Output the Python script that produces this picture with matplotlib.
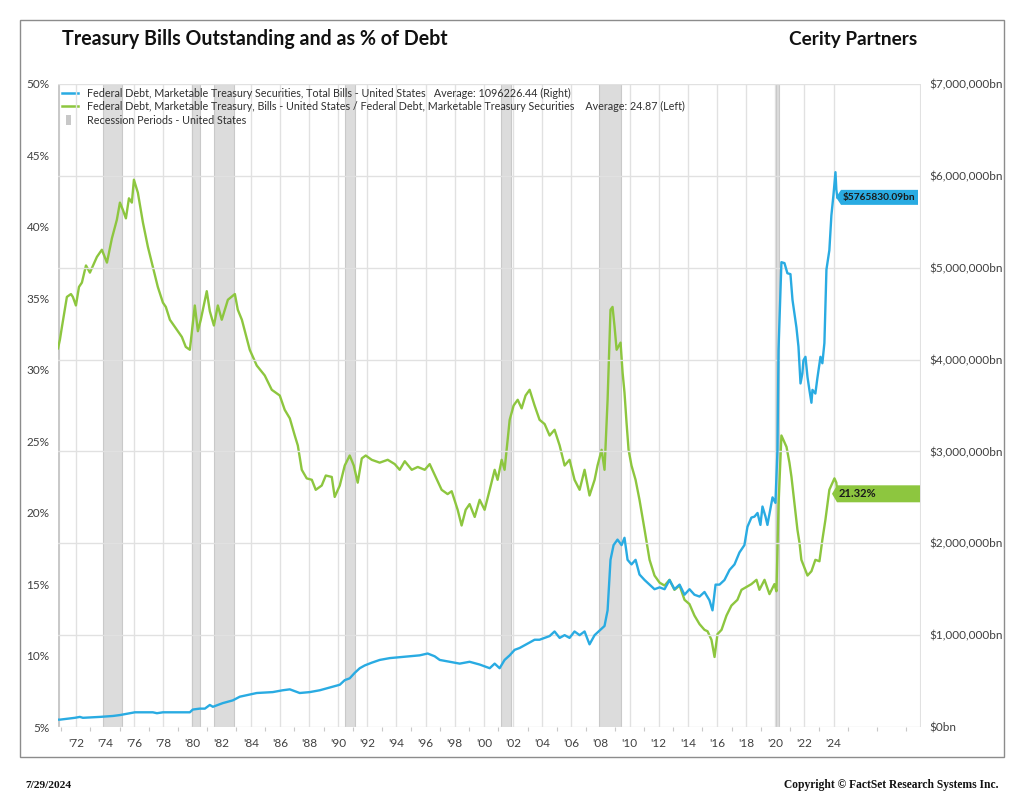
import matplotlib
matplotlib.use("Agg")
import matplotlib.pyplot as plt
from matplotlib.patches import Rectangle, Polygon
from matplotlib.ticker import FixedLocator, FuncFormatter

# ---------------- data ----------------
pct_years = [1970.77, 1970.90, 1971.04, 1971.38, 1971.66, 1971.79, 1972.00, 1972.21, 1972.41, 1972.69,
             1972.96, 1973.44, 1973.78, 1974.13, 1974.47, 1974.81, 1975.02, 1975.22, 1975.43, 1975.64,
             1975.84, 1975.98, 1976.25, 1976.60, 1976.94, 1977.28, 1977.62, 1977.97, 1978.17, 1978.45,
             1978.93, 1979.27, 1979.54, 1979.82, 1980.16, 1980.37, 1980.57, 1980.98, 1981.19, 1981.47,
             1981.74, 1982.01, 1982.43, 1982.91, 1983.11, 1983.39, 1983.93, 1984.41, 1984.96, 1985.44,
             1985.99, 1986.33, 1986.68, 1987.02, 1987.23, 1987.50, 1987.84, 1988.19, 1988.46, 1988.87,
             1989.15, 1989.56, 1989.76, 1990.11, 1990.45, 1990.79, 1991.07, 1991.34, 1991.62, 1991.89,
             1992.30, 1992.85, 1993.40, 1993.88, 1994.22, 1994.57, 1995.05, 1995.46, 1995.94, 1996.28,
             1996.69, 1997.10, 1997.51, 1997.79, 1998.20, 1998.47, 1998.75, 1999.02, 1999.37, 1999.71,
             2000.05, 2000.40, 2000.74, 2000.94, 2001.22, 2001.42, 2001.77, 2002.04, 2002.32, 2002.59,
             2002.86, 2003.14, 2003.48, 2003.82, 2004.17, 2004.51, 2004.85, 2005.20, 2005.54, 2005.88,
             2006.22, 2006.57, 2006.91, 2007.25, 2007.60, 2007.80, 2008.08, 2008.28, 2008.49, 2008.69,
             2008.83, 2008.97, 2009.11, 2009.38, 2009.52, 2009.65, 2009.79, 2009.93, 2010.13, 2010.41,
             2010.68, 2011.03, 2011.37, 2011.71, 2012.06, 2012.40, 2012.74, 2013.08, 2013.43, 2013.77,
             2014.11, 2014.45, 2014.80, 2015.14, 2015.35, 2015.62, 2015.83, 2016.03, 2016.31, 2016.65,
             2016.99, 2017.40, 2017.68, 2018.02, 2018.36, 2018.71, 2018.91, 2019.26, 2019.60, 2019.94,
             2020.08, 2020.22, 2020.42, 2020.77, 2020.97, 2021.11, 2021.31, 2021.52, 2021.66, 2021.79,
             2022.21, 2022.48, 2022.75, 2023.03, 2023.23, 2023.44, 2023.71, 2024.06, 2024.19, 2024.26]
pct_values = [31.5, 32.1, 33.0, 35.1, 35.3, 35.1, 34.5, 35.8, 36.1, 37.3,
              36.8, 37.9, 38.4, 37.5, 39.2, 40.5, 41.7, 41.2, 40.6, 42.0,
              41.7, 43.3, 42.4, 40.3, 38.6, 37.2, 35.8, 34.7, 34.4, 33.5,
              32.8, 32.3, 31.6, 31.4, 34.5, 32.7, 33.5, 35.5, 34.1, 33.1,
              34.5, 33.5, 34.9, 35.3, 34.2, 33.5, 31.4, 30.3, 29.6, 28.6,
              28.2, 27.2, 26.6, 25.4, 24.7, 23.0, 22.4, 22.3, 21.6, 21.9,
              22.6, 22.5, 21.1, 21.9, 23.3, 24.0, 23.3, 22.1, 23.8, 24.0,
              23.7, 23.5, 23.7, 23.4, 23.0, 23.6, 23.0, 23.2, 23.0, 23.4,
              22.5, 21.6, 21.3, 21.5, 20.2, 19.1, 20.2, 20.6, 19.7, 20.9,
              20.2, 21.6, 23.0, 22.3, 23.7, 23.0, 26.5, 27.5, 27.9, 27.3,
              28.2, 28.6, 27.5, 26.5, 26.2, 25.4, 25.8, 24.7, 23.3, 23.7,
              22.3, 21.6, 23.0, 21.2, 22.3, 23.3, 24.4, 23.0, 27.9, 34.2,
              34.4, 33.0, 31.4, 31.9, 29.8, 28.4, 26.3, 24.4, 23.3, 22.3,
              20.9, 18.8, 16.7, 15.6, 15.1, 14.9, 15.3, 14.6, 14.9, 13.9,
              13.6, 12.8, 12.2, 11.8, 11.7, 11.1, 9.9, 11.5, 11.8, 12.8,
              13.5, 13.9, 14.6, 14.8, 15.0, 15.3, 14.6, 15.3, 14.3, 15.0,
              14.5, 20.5, 25.4, 24.6, 23.5, 22.5, 20.7, 18.8, 17.9, 16.7,
              15.6, 15.9, 16.7, 16.6, 18.1, 19.5, 21.6, 22.4, 22.1, 21.32]

bills_years = [1970.77, 1970.90, 1971.93, 1972.27, 1972.48, 1973.65, 1974.54, 1975.02, 1975.70, 1976.05,
               1977.28, 1977.56, 1977.97, 1979.82, 1980.02, 1980.50, 1980.85, 1981.19, 1981.40, 1982.08,
               1982.77, 1983.25, 1984.41, 1985.51, 1986.20, 1986.68, 1987.36, 1988.05, 1988.74, 1989.42,
               1990.11, 1990.45, 1990.79, 1991.14, 1991.48, 1991.82, 1992.30, 1992.85, 1993.54, 1994.22,
               1994.91, 1995.59, 1996.14, 1996.62, 1996.97, 1997.65, 1998.34, 1999.02, 1999.71, 2000.40,
               2000.74, 2001.08, 2001.42, 2001.77, 2002.11, 2002.45, 2002.80, 2003.14, 2003.48, 2003.82,
               2004.17, 2004.51, 2004.85, 2005.20, 2005.54, 2005.88, 2006.22, 2006.57, 2006.91, 2007.25,
               2007.60, 2007.94, 2008.28, 2008.49, 2008.69, 2008.90, 2009.17, 2009.45, 2009.65, 2009.86,
               2010.13, 2010.41, 2010.68, 2011.03, 2011.37, 2011.71, 2012.06, 2012.40, 2012.74, 2013.08,
               2013.43, 2013.77, 2014.11, 2014.45, 2014.80, 2015.14, 2015.48, 2015.69, 2015.90, 2016.17,
               2016.51, 2016.86, 2017.20, 2017.54, 2017.88, 2018.09, 2018.36, 2018.57, 2018.78, 2018.98,
               2019.12, 2019.33, 2019.46, 2019.74, 2019.81, 2020.01, 2020.15, 2020.22, 2020.42, 2020.63,
               2020.83, 2021.04, 2021.18, 2021.45, 2021.59, 2021.73, 2021.86, 2021.93, 2022.07, 2022.21,
               2022.34, 2022.48, 2022.55, 2022.75, 2022.89, 2023.10, 2023.23, 2023.37, 2023.51, 2023.71,
               2023.85, 2023.99, 2024.13, 2024.19, 2024.26]
bills_values = [80000, 80000, 100000, 110000, 100000, 110000, 120000, 130000, 150000, 160000,
                160000, 150000, 160000, 160000, 190000, 200000, 200000, 240000, 220000, 260000,
                290000, 330000, 370000, 380000, 400000, 410000, 370000, 380000, 400000, 430000,
                460000, 510000, 530000, 590000, 640000, 670000, 700000, 730000, 750000, 760000,
                770000, 780000, 800000, 770000, 730000, 710000, 690000, 710000, 680000, 640000,
                690000, 640000, 730000, 780000, 840000, 860000, 890000, 920000, 950000, 950000,
                970000, 990000, 1040000, 970000, 1000000, 970000, 1040000, 1000000, 1040000, 900000,
                1000000, 1050000, 1100000, 1270000, 1820000, 1980000, 2040000, 1980000, 2060000, 1820000,
                1770000, 1820000, 1660000, 1600000, 1550000, 1500000, 1520000, 1500000, 1600000, 1500000,
                1550000, 1440000, 1500000, 1440000, 1420000, 1470000, 1380000, 1270000, 1550000, 1550000,
                1600000, 1710000, 1770000, 1900000, 1980000, 2180000, 2280000, 2290000, 2330000, 2200000,
                2400000, 2290000, 2200000, 2440000, 2500000, 2440000, 3020000, 4100000, 5060000, 5050000,
                4940000, 4930000, 4650000, 4350000, 4140000, 3740000, 3850000, 3990000, 4030000, 3810000,
                3670000, 3530000, 3670000, 3630000, 3800000, 4030000, 3960000, 4180000, 4980000, 5190000,
                5570000, 5790000, 6040000, 5850000, 5765830.09]

recession_starts = [1969.92, 1973.83, 1980.00, 1981.50, 1990.50, 2001.17, 2007.92, 2020.08]
recession_ends = [1970.87, 1975.17, 1980.50, 1982.83, 1991.17, 2001.83, 2009.42, 2020.25]

pct_ticks = [5, 10, 15, 20, 25, 30, 35, 40, 45, 50]
bill_ticks = [0, 1000000, 2000000, 3000000, 4000000, 5000000, 6000000, 7000000]
year_ticks = list(range(1972, 2025, 2))
year_labels = ["'%02d" % (y % 100) for y in year_ticks]

title = "Treasury Bills Outstanding and as % of Debt"
brand = "Cerity Partners"
legend_labels = ["Federal Debt, Marketable Treasury Securities, Total Bills - United States   Average: 1096226.44 (Right)",
                 "Federal Debt, Marketable Treasury, Bills - United States / Federal Debt, Marketable Treasury Securities    Average: 24.87 (Left)",
                 "Recession Periods - United States"]

# ---------------- styling ----------------
BLUE = "#29abe2"
GREEN = "#8dc63f"
GRID = "#e1e1e1"
TXT = "#404040"
FONT = ["Lato", "DejaVu Sans"]
plt.rcParams["font.family"] = FONT

fig = plt.figure(figsize=(10.24, 7.91), dpi=100)
W, H = 1024, 791
L, R, T, B = 58, 921, 84, 727
ax = fig.add_axes([L / W, 1 - B / H, (R - L) / W, (B - T) / H])
ax2 = ax.twinx()

XMIN, XMAX = 1970.77, 2030.0
ax.set_xlim(XMIN, XMAX)
ax.set_ylim(5, 50)
ax2.set_ylim(0, 7000000)

# outer frame
fig.patches.append(Rectangle((20 / W, 1 - 757 / H), (1004 - 20) / W, (757 - 20) / H,
                             transform=fig.transFigure, fill=False, edgecolor="#8c8c8c", lw=1.0))

# recessions
for s, e in zip(recession_starts, recession_ends):
    ax.axvspan(max(s, XMIN), e, facecolor="#dcdcdc", edgecolor="#c9c9c9", lw=0.8, zorder=1)

# grids
for yt in year_ticks:
    ax.axvline(yt, color=GRID, lw=1.0, zorder=0.5)
ax.axvline(XMAX, color=GRID, lw=1.5, zorder=0.5)
for bt in bill_ticks:
    ax2.axhline(bt, color=GRID, lw=1.0, zorder=0.5)

for a in (ax, ax2):
    for sp in a.spines.values():
        sp.set_visible(False)

ax.set_zorder(2)
ax2.set_zorder(3)
ax.patch.set_visible(False)
ax2.patch.set_visible(False)

# lines
ax.plot(pct_years, pct_values, color=GREEN, lw=1.7, zorder=4, solid_joinstyle="round")
ax2.plot(bills_years, bills_values, color=BLUE, lw=1.7, zorder=4, solid_joinstyle="round")

# ticks
ax.xaxis.set_major_locator(FixedLocator(year_ticks))
ax.set_xticklabels(year_labels)
ax.xaxis.set_minor_locator(FixedLocator(list(range(1971, 2030, 2))))
ax.tick_params(axis="x", which="major", length=0, pad=8, labelsize=8.5, labelcolor=TXT)
ax.tick_params(axis="x", which="minor", length=3, color="#c8c8c8", width=0.8)

ax.yaxis.set_major_locator(FixedLocator(pct_ticks))
ax.yaxis.set_major_formatter(FuncFormatter(lambda v, p: "%d%%" % v))
ax.tick_params(axis="y", length=0, pad=6, labelsize=8.5, labelcolor=TXT)

ax2.yaxis.set_major_locator(FixedLocator(bill_ticks))
ax2.yaxis.set_major_formatter(FuncFormatter(lambda v, p: "${:,.0f}bn".format(v)))
ax2.tick_params(axis="y", length=0, pad=6, labelsize=8.5, labelcolor=TXT)

# end-value tags
def tag(axis, yv, text, color, x0_px, x1_px, h_px, fs):
    y_disp = axis.transData.transform((XMIN, yv))[1]
    yc = y_disp / H
    x0 = x0_px / W
    x1 = x1_px / W
    hh = h_px / 2 / H
    tip = 5 / W
    poly = Polygon([(x0, yc), (x0 + tip, yc + hh), (x1, yc + hh), (x1, yc - hh), (x0 + tip, yc - hh)],
                   closed=True, transform=fig.transFigure, facecolor=color, edgecolor="none", zorder=10)
    fig.patches.append(poly)
    fig.text(x0 + tip + 2 / W, yc, text, ha="left", va="center", fontsize=fs, fontweight="bold",
             color="#1a1a1a", zorder=12)

fig.canvas.draw()
tag(ax2, bills_values[-1], "$%.2fbn" % bills_values[-1], BLUE, 836, 918, 15, 7.3)
tag(ax, pct_values[-1], "%.2f%%" % pct_values[-1], GREEN, 832, 920, 17, 8)

# legend (manual)
leg_y = [93, 106, 120]
for i, (lab, col) in enumerate(zip(legend_labels, [BLUE, GREEN, None])):
    yy = 1 - leg_y[i] / H
    if col is not None:
        fig.add_artist(plt.Line2D([62 / W, 78 / W], [yy, yy], transform=fig.transFigure,
                                  color=col, lw=1.8))
    else:
        fig.patches.append(Rectangle((66 / W, yy - 5 / H), 5 / W, 10 / H, transform=fig.transFigure,
                                     facecolor="#c8c8c8", edgecolor="none"))
    fig.text(87 / W, yy, lab, ha="left", va="center", fontsize=7.75, color="#303030", zorder=12)

# titles
fig.text(62 / W, 1 - 39 / H, title, ha="left", va="center", fontsize=14.1, fontweight="bold", color="#111111")
fig.text(917 / W, 1 - 39 / H, brand, ha="right", va="center", fontsize=13.7, fontweight="bold", color="#111111")

# footer
fig.text(25 / W, 1 - 785 / H, "7/29/2024", ha="left", va="center", fontsize=8.2, fontweight="bold",
         family=["Liberation Serif", "DejaVu Serif"], color="#111111")
fig.text(998 / W, 1 - 785 / H, "Copyright \u00a9 FactSet Research Systems Inc.", ha="right", va="center",
         fontsize=8.3, fontweight="bold", family=["Liberation Serif", "DejaVu Serif"], color="#111111")

fig.savefig("out.png", dpi=100)
